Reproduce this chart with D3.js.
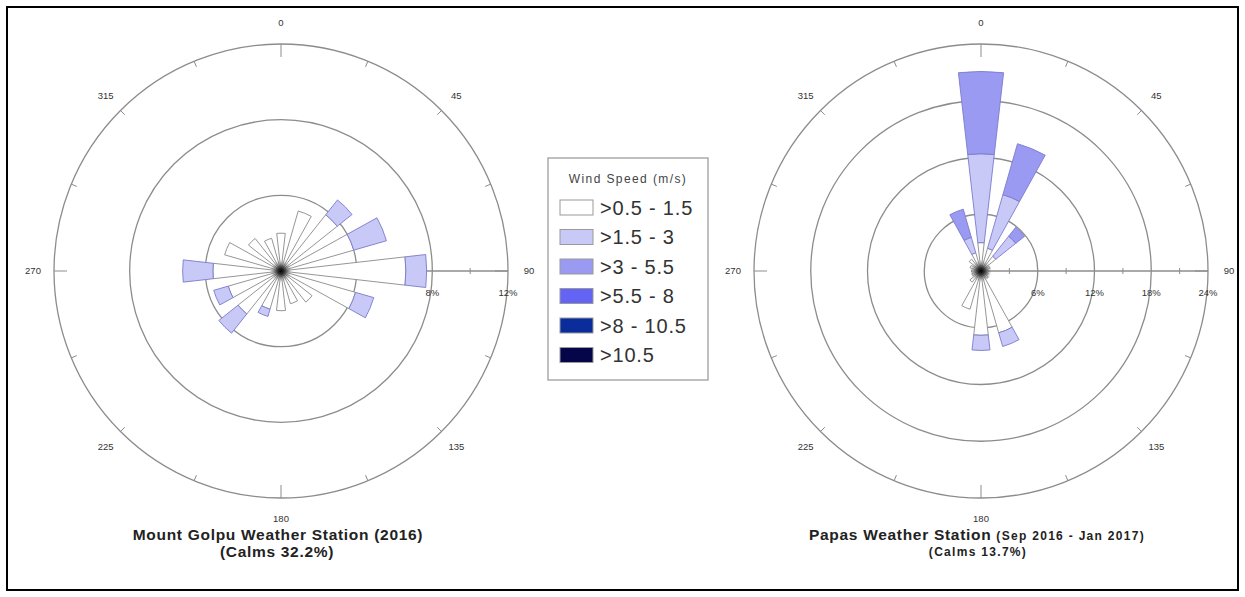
<!DOCTYPE html>
<html>
<head>
<meta charset="utf-8">
<script src="https://cdn.jsdelivr.net/npm/d3@7/dist/d3.min.js"></script>
<style>
  body { margin: 0; background: #fff; }
  text { font-family: "Liberation Sans", Arial, sans-serif; }
</style>
</head>
<body>
<svg id="chart" width="1245" height="597"></svg>
<script>
// wind directions (degrees, clockwise from north)
const directions = [0, 22.5, 45, 67.5, 90, 112.5, 135, 157.5, 180, 202.5, 225, 247.5, 270, 292.5, 315, 337.5];
const speedClasses = ['>0.5 - 1.5', '>1.5 - 3', '>3 - 5.5', '>5.5 - 8', '>8 - 10.5', '>10.5'];
const speedColors = ['#ffffff', '#c9c9f7', '#9a9af2', '#6464f4', '#0b2d9c', '#05054a'];
const compassLabels = [0, 45, 90, 135, 180, 225, 270, 315];

// Mount Golpu frequencies (%) per speed class
const golpuClass1 = [2.0, 3.3, 3.8, 4.0, 6.6, 4.1, 2.1, 1.8, 2.1, 2.1, 2.9, 2.9, 3.6, 3.1, 2.2, 1.8];
const golpuClass2 = [0, 0, 1.0, 1.8, 1.1, 1.0, 0, 0, 0, 0.4, 1.3, 0.8, 1.6, 0, 0, 0];
const golpuRings = [4, 8, 12];
const golpuRingLabels = [8, 12];

// Papas frequencies (%) per speed class
const papasClass1 = [3.0, 2.5, 2.0, 1.0, 0.8, 0.8, 1.0, 6.8, 6.8, 4.2, 1.5, 1.0, 1.0, 1.2, 1.6, 2.0];
const papasClass2 = [9.4, 5.9, 2.7, 0, 0, 0, 0, 1.5, 1.6, 0, 0, 0, 0, 0, 0, 1.7];
const papasClass3 = [8.7, 5.6, 1.2, 0, 0, 0, 0, 0, 0, 0, 0, 0, 0, 0, 0, 3.1];
const papasRings = [6, 12, 18, 24];
const papasRingLabels = [6, 12, 18, 24];

const svg = d3.select('#chart');
const outerR = 227;
const wedgeHalf = 6.5; // degrees
const rad = Math.PI / 180;

svg.append('rect')
  .attr('x', 7).attr('y', 7).attr('width', 1231).attr('height', 583)
  .attr('fill', 'none').attr('stroke', '#000').attr('stroke-width', 2);

const defs = svg.append('defs');
const grad = defs.append('radialGradient').attr('id', 'hub');
grad.append('stop').attr('offset', '0%').attr('stop-color', '#000').attr('stop-opacity', 1);
grad.append('stop').attr('offset', '30%').attr('stop-color', '#222').attr('stop-opacity', 0.9);
grad.append('stop').attr('offset', '100%').attr('stop-color', '#888').attr('stop-opacity', 0);

function drawRose(cx, cy, maxPct, rings, ringLabels, series) {
  const r = d3.scaleLinear().domain([0, maxPct]).range([0, outerR]);
  const g = svg.append('g').attr('transform', `translate(${cx},${cy})`);

  // rings
  g.selectAll('circle.ring')
    .data(rings)
    .join('circle')
    .attr('class', 'ring')
    .attr('r', (d) => r(d))
    .attr('fill', 'none')
    .attr('stroke', '#8c8c8c')
    .attr('stroke-width', 1.3);

  // direction ticks on outer ring
  g.selectAll('line.dtick')
    .data(d3.range(0, 360, 22.5))
    .join('line')
    .attr('class', 'dtick')
    .attr('x1', (d) => Math.sin(d * rad) * outerR)
    .attr('y1', (d) => -Math.cos(d * rad) * outerR)
    .attr('x2', (d) => Math.sin(d * rad) * (outerR - (d % 90 === 0 ? 13 : 6)))
    .attr('y2', (d) => -Math.cos(d * rad) * (outerR - (d % 90 === 0 ? 13 : 6)))
    .attr('stroke', '#8c8c8c')
    .attr('stroke-width', 1);

  g.selectAll('text.compass')
    .data(compassLabels)
    .join('text')
    .attr('class', 'compass')
    .attr('x', (d) => Math.sin(d * rad) * 248)
    .attr('y', (d) => -Math.cos(d * rad) * 248)
    .attr('text-anchor', 'middle')
    .attr('dy', '0.35em')
    .attr('font-size', 9.5)
    .attr('fill', '#333')
    .text((d) => d);

  // radial axis toward east
  g.append('line')
    .attr('x1', 0).attr('y1', 0).attr('x2', outerR).attr('y2', 0)
    .attr('stroke', '#8c8c8c').attr('stroke-width', 1.3);
  const step = rings[1] - rings[0];
  g.selectAll('line.rtick')
    .data(rings.map((d) => d - step / 2))
    .join('line')
    .attr('class', 'rtick')
    .attr('x1', (d) => r(d)).attr('x2', (d) => r(d))
    .attr('y1', -3).attr('y2', 3)
    .attr('stroke', '#8c8c8c');
  g.selectAll('text.rlabel')
    .data(ringLabels)
    .join('text')
    .attr('class', 'rlabel')
    .attr('x', (d) => r(d))
    .attr('y', 25)
    .attr('text-anchor', 'middle')
    .attr('font-size', 9.5)
    .attr('fill', '#333')
    .text((d) => d + '%');

  // stacked wedges
  const segs = [];
  directions.forEach((dir, i) => {
    let lo = 0;
    series.forEach((s, k) => {
      const v = s[i];
      if (v > 0) {
        segs.push({ dir, lo, hi: lo + v, k });
        lo += v;
      }
    });
  });
  const arc = d3.arc()
    .innerRadius((d) => r(d.lo))
    .outerRadius((d) => r(d.hi))
    .startAngle((d) => (d.dir - wedgeHalf) * rad)
    .endAngle((d) => (d.dir + wedgeHalf) * rad);
  g.selectAll('path.wedge')
    .data(segs)
    .join('path')
    .attr('class', 'wedge')
    .attr('d', arc)
    .attr('fill', (d) => speedColors[d.k])
    .attr('stroke', (d) => (d.k === 0 ? '#8a8a8a' : '#7a7acc'))
    .attr('stroke-width', 0.9);

  g.append('circle').attr('r', 11).attr('fill', 'url(#hub)');
}

drawRose(281, 271, 12, golpuRings, golpuRingLabels, [golpuClass1, golpuClass2]);
drawRose(981, 271, 24, papasRings, papasRingLabels, [papasClass1, papasClass2, papasClass3]);

// titles
svg.append('text')
  .attr('x', 278).attr('y', 540)
  .attr('text-anchor', 'middle').attr('font-size', 15.5).attr('font-weight', 'bold')
  .attr('letter-spacing', 0.7).attr('fill', '#222')
  .text('Mount Golpu Weather Station (2016)');
svg.append('text')
  .attr('x', 277).attr('y', 557)
  .attr('text-anchor', 'middle').attr('font-size', 15.5).attr('font-weight', 'bold')
  .attr('letter-spacing', 0.7).attr('fill', '#222')
  .text('(Calms 32.2%)');

const t2 = svg.append('text')
  .attr('x', 977).attr('y', 540)
  .attr('text-anchor', 'middle').attr('font-weight', 'bold').attr('fill', '#222');
t2.append('tspan').attr('font-size', 15.5).attr('letter-spacing', 0.7).text('Papas Weather Station ');
t2.append('tspan').attr('font-size', 12).attr('letter-spacing', 1.3).text('(Sep 2016 - Jan 2017)');
svg.append('text')
  .attr('x', 978).attr('y', 556)
  .attr('text-anchor', 'middle').attr('font-size', 12).attr('font-weight', 'bold')
  .attr('letter-spacing', 1.3).attr('fill', '#222')
  .text('(Calms 13.7%)');

// legend
const lg = svg.append('g').attr('transform', 'translate(548,158)');
lg.append('rect')
  .attr('width', 160).attr('height', 222)
  .attr('fill', '#fff').attr('stroke', '#aaa').attr('stroke-width', 1.5);
lg.append('text')
  .attr('x', 80).attr('y', 25)
  .attr('text-anchor', 'middle').attr('font-size', 12).attr('letter-spacing', 1.4).attr('fill', '#444')
  .text('Wind Speed (m/s)');
const rows = lg.selectAll('g.row')
  .data(speedClasses)
  .join('g')
  .attr('class', 'row')
  .attr('transform', (_d, i) => `translate(12,${42 + i * 29.5})`);
rows.append('rect')
  .attr('width', 33).attr('height', 15)
  .attr('fill', (_d, i) => speedColors[i])
  .attr('stroke', '#999');
rows.append('text')
  .attr('x', 40).attr('y', 14.5)
  .attr('font-size', 20).attr('letter-spacing', 0.8).attr('fill', '#333')
  .text((d) => d);
</script>
</body>
</html>
